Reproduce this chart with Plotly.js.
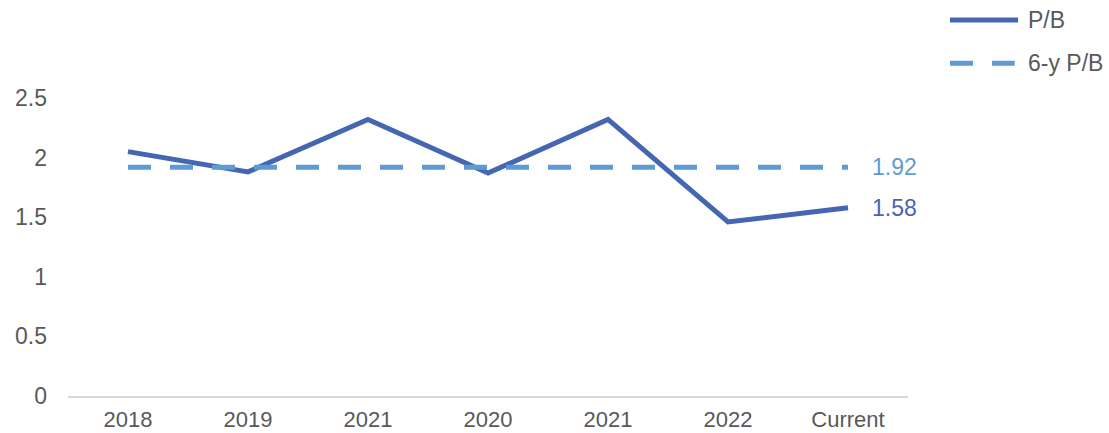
<!DOCTYPE html>
<html>
<head>
<meta charset="utf-8">
<script src="https://cdn.plot.ly/plotly-3.0.1.min.js"></script>
<style>
html,body{margin:0;padding:0;background:#fff;}
#chart{width:1109px;height:433px;}
</style>
</head>
<body>
<div id="chart"></div>
<script>
const categories = ["2018", "2019", "2021", "2020", "2021", "2022", "Current"];
const pbValues = [2.05, 1.88, 2.32, 1.87, 2.32, 1.46, 1.58];
const avgValue = 1.92;
const avgValues = categories.map(() => avgValue);
const seriesNames = ["P/B", "6-y P/B"];
const yTicks = [0, 0.5, 1, 1.5, 2, 2.5];

const xIdx = categories.map((c, i) => i);
const fontFam = "Liberation Sans, Arial, sans-serif";
const colPB = "#4566B0";
const colAvg = "#5E9BD3";
const txtCol = "#595959";
const lineW = 5;
const dashStyle = "23px,19px";

const traces = [
  {
    x: xIdx, y: pbValues, name: seriesNames[0], type: "scatter", mode: "lines",
    line: {color: colPB, width: lineW}, showlegend: false
  },
  {
    x: xIdx, y: avgValues, name: seriesNames[1], type: "scatter", mode: "lines",
    line: {color: colAvg, width: lineW, dash: dashStyle}, showlegend: false
  }
];

const last = xIdx.length - 1;
const annotations = [
  {x: xIdx[last], y: avgValues[last], xref: "x", yref: "y", text: avgValues[last].toFixed(2),
   showarrow: false, xanchor: "left", xshift: 22, font: {size: 23, color: colAvg}},
  {x: xIdx[last], y: pbValues[last], xref: "x", yref: "y", text: pbValues[last].toFixed(2),
   showarrow: false, xanchor: "left", xshift: 22, font: {size: 23, color: colPB}},
  // legend texts
  {x: 1.141, y: 1.262, xref: "paper", yref: "paper", text: seriesNames[0], showarrow: false,
   xanchor: "left", yanchor: "middle", font: {size: 23, color: txtCol}},
  {x: 1.141, y: 1.117, xref: "paper", yref: "paper", text: seriesNames[1], showarrow: false,
   xanchor: "left", yanchor: "middle", font: {size: 23, color: txtCol}}
];

const shapes = [
  {type: "line", xref: "paper", yref: "paper", x0: 1.05, x1: 1.131, y0: 1.262, y1: 1.262,
   line: {color: colPB, width: lineW}},
  {type: "line", xref: "paper", yref: "paper", x0: 1.05, x1: 1.127, y0: 1.117, y1: 1.117,
   line: {color: colAvg, width: lineW, dash: dashStyle}}
];

const layout = {
  width: 1109, height: 433,
  margin: {l: 68, r: 201, t: 98, b: 37},
  paper_bgcolor: "#ffffff", plot_bgcolor: "#ffffff",
  font: {family: fontFam, size: 23, color: txtCol},
  showlegend: false,
  annotations: annotations,
  shapes: shapes,
  xaxis: {
    tickmode: "array", tickvals: xIdx, ticktext: categories,
    range: [-0.5, 6.5], showgrid: false, zeroline: false,
    showline: true, linecolor: "#d9d9d9", linewidth: 1.5,
    ticks: "", ticklabelstandoff: 3, tickfont: {size: 22, color: txtCol}, automargin: false
  },
  yaxis: {
    range: [0, 2.5], tickmode: "array", tickvals: yTicks, ticktext: yTicks.map(String),
    showgrid: false, zeroline: false, showline: false, ticks: "",
    ticklabelstandoff: 20, tickfont: {size: 23, color: txtCol}, automargin: false
  }
};

Plotly.newPlot("chart", traces, layout, {displayModeBar: false, staticPlot: true});
</script>
</body>
</html>
